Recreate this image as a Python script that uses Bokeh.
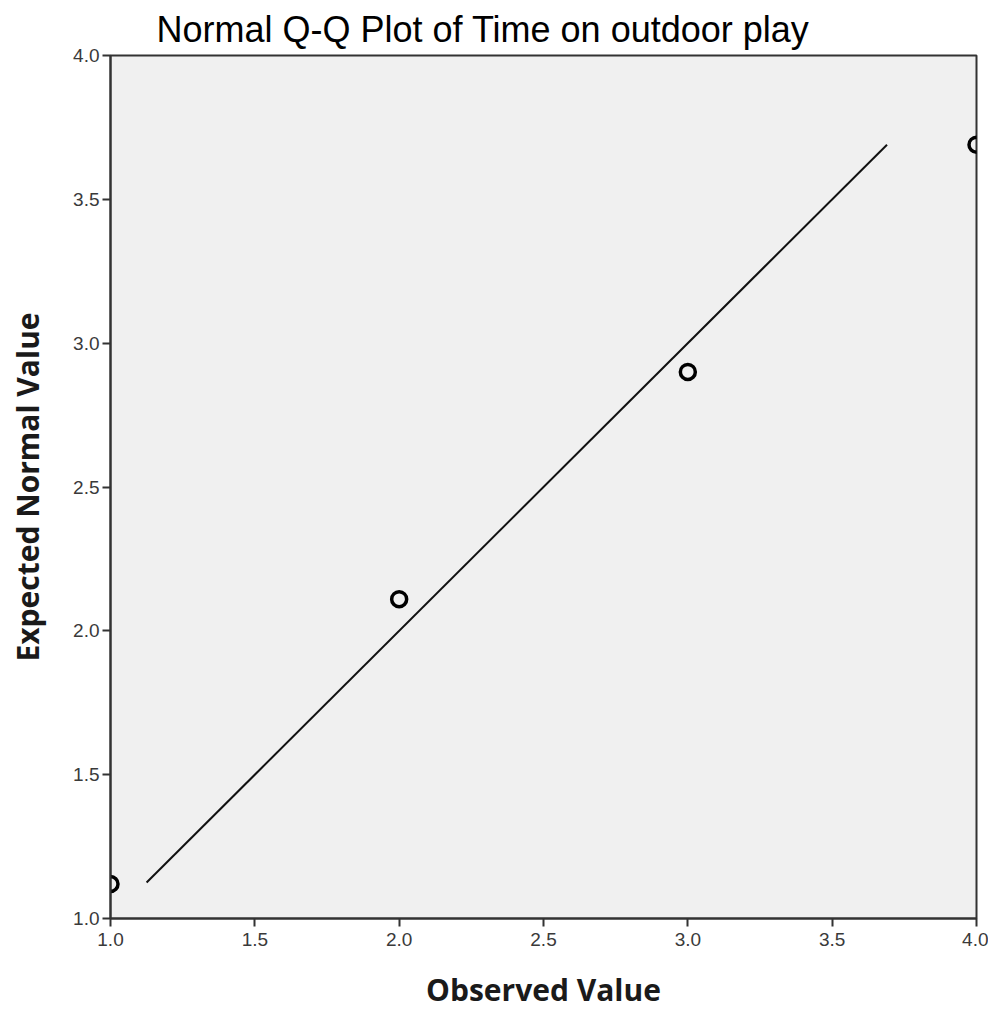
from bokeh.plotting import figure
from bokeh.models import Range1d, FixedTicker, Title, NumeralTickFormatter
from bokeh.embed import file_html
from bokeh.resources import INLINE

# Data
observed = [1.0, 2.0, 3.0, 4.0]
expected = [1.12, 2.11, 2.90, 3.69]
line_x = [1.125, 3.69]
line_y = [1.125, 3.69]
ticks = [1.0, 1.5, 2.0, 2.5, 3.0, 3.5, 4.0]

p = figure(width=988, height=1016, output_backend="svg", toolbar_location=None,
           x_range=Range1d(1.0, 4.0), y_range=Range1d(1.0, 4.0),
           min_border_left=110, min_border_right=12, min_border_top=54,
           min_border_bottom=98)

p.title = Title(text="Normal Q-Q Plot of Time on outdoor play", align="left",
                text_font="Liberation Sans", text_font_size="36px",
                text_font_style="normal", text_color="#000000", offset=46,
                standoff=12)

p.background_fill_color = "#f0f0f0"
p.border_fill_color = "white"
p.outline_line_color = "#333333"
p.outline_line_width = 2
p.grid.visible = False

for ax in (p.xaxis, p.yaxis):
    ax.ticker = FixedTicker(ticks=ticks)
    ax.formatter = NumeralTickFormatter(format="0.0")
    ax.minor_tick_line_color = None
    ax.major_tick_out = 8
    ax.major_tick_in = 0
    ax.major_tick_line_width = 2
    ax.major_tick_line_color = "#333333"
    ax.axis_line_width = 2
    ax.axis_line_color = "#333333"
    ax.major_label_text_font = "Liberation Sans"
    ax.major_label_text_font_size = "19px"
    ax.major_label_text_color = "#3a3a3a"
    ax.axis_label_text_font = "Open Sans"
    ax.axis_label_text_font_style = "bold"
    ax.axis_label_text_font_size = "30px"
    ax.axis_label_text_color = "#1a1a1a"

p.xaxis.axis_label = "Observed Value"
p.yaxis.axis_label = "Expected Normal Value"
p.xaxis.axis_label_standoff = 20
p.yaxis.axis_label_standoff = 22
p.xaxis.major_label_standoff = 6
p.yaxis.major_label_standoff = 3

p.line(line_x, line_y, line_color="#111111", line_width=2)
p.scatter(observed, expected, marker="circle", size=15, fill_color=None,
          line_color="black", line_width=3.5)

open("out.html", "w").write(file_html(p, INLINE))
